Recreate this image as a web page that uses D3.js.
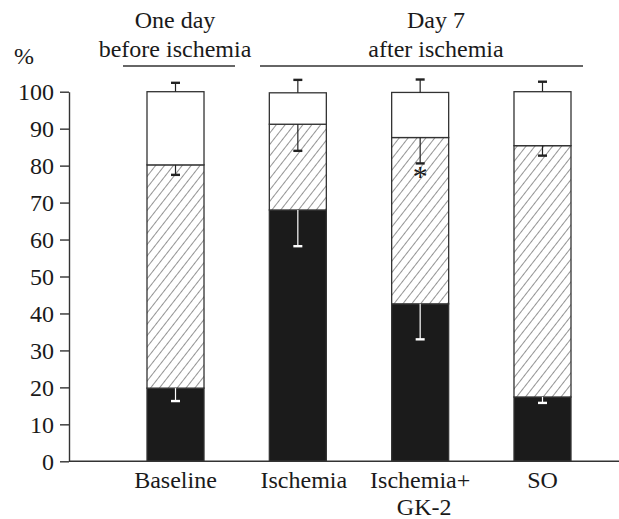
<!DOCTYPE html>
<html>
<head>
<meta charset="utf-8">
<script src="https://cdn.jsdelivr.net/npm/d3@7"></script>
<style>
  body { margin: 0; background: white; }
  text { font-family: "Liberation Serif", "Times New Roman", serif; fill: #1a1a1a; }
</style>
</head>
<body>
<div id="chart"></div>
<script>
// groups on the x axis
let categories = ['Baseline', 'Ischemia', 'Ischemia+|GK-2', 'SO'];
// segment sizes, bottom to top (black, hatched, white), in %
let blackVals = [19.8, 68.0, 42.6, 17.4];
let hatchVals = [60.4, 23.2, 45.0, 68.0];
let whiteVals = [19.8, 8.5, 12.2, 14.6];
// error bar lengths for each segment
let blackErr = [3.5, 9.8, 9.6, 1.6];
let hatchErr = [2.7, 7.2, 7.0, 2.7];
let whiteErr = [2.4, 3.5, 3.5, 2.7];
let yTicks = [0, 10, 20, 30, 40, 50, 60, 70, 80, 90, 100];
// significance mark
let starred = ['Ischemia+|GK-2'];

let width = 619,
	height = 519;

let rows = categories.map((c, i) => ({
	cat: c, black: blackVals[i], hatch: hatchVals[i], white: whiteVals[i],
	errs: {black: blackErr[i], hatch: hatchErr[i], white: whiteErr[i]}
}));

let keys = ['black', 'hatch', 'white'];
let stacked = d3.stack().keys(keys)(rows);

let svg = d3.select('#chart')
	.append('svg')
		.attr('width', width)
		.attr('height', height)
		.style('background', 'white');

// hatch pattern
let pat = svg.append('defs').append('pattern')
	.attr('id', 'hatch')
	.attr('patternUnits', 'userSpaceOnUse')
	.attr('width', 7)
	.attr('height', 7)
	.attr('patternTransform', 'rotate(38)');
pat.append('rect').attr('width', 7).attr('height', 7).attr('fill', 'white');
pat.append('line')
	.attr('x1', 0).attr('y1', 0).attr('x2', 0).attr('y2', 7)
	.attr('stroke', '#3a3a3a').attr('stroke-width', 1.1);

let yScale = d3.scaleLinear()
	.domain([0, 100])
	.range([461.3, 91.7]);

let xScale = d3.scaleBand()
	.domain(categories)
	.range([147, 571])
	.paddingInner(0.534)
	.paddingOuter(0);

let fills = {black: '#1b1b1b', hatch: 'url(#hatch)', white: 'white'};

// bars
svg.append('g')
	.selectAll('g')
	.data(stacked)
	.enter()
	.append('g')
	.attr('fill', d => fills[d.key])
	.selectAll('rect')
	.data(d => d)
	.enter()
	.append('rect')
	.attr('x', d => xScale(d.data.cat))
	.attr('y', d => yScale(d[1]))
	.attr('width', xScale.bandwidth())
	.attr('height', d => yScale(d[0]) - yScale(d[1]))
	.attr('stroke', '#333')
	.attr('stroke-width', 1.3);

// error bars
let errData = [];
stacked.forEach(s => {
	s.forEach(d => {
		let e = d.data.errs[s.key];
		let end = s.key === 'white' ? d[1] + e : d[1] - e;
		errData.push({cat: d.data.cat, from: d[1], to: end, color: s.key === 'black' ? 'white' : '#222'});
	});
});

let errG = svg.append('g');
errG.selectAll('line.stem')
	.data(errData)
	.enter()
	.append('line')
	.attr('class', 'stem')
	.attr('x1', d => xScale(d.cat) + xScale.bandwidth() / 2)
	.attr('x2', d => xScale(d.cat) + xScale.bandwidth() / 2)
	.attr('y1', d => yScale(d.from))
	.attr('y2', d => yScale(d.to))
	.attr('stroke', d => d.color)
	.attr('stroke-width', 1.2);
errG.selectAll('line.cap')
	.data(errData)
	.enter()
	.append('line')
	.attr('class', 'cap')
	.attr('x1', d => xScale(d.cat) + xScale.bandwidth() / 2 - 4.5)
	.attr('x2', d => xScale(d.cat) + xScale.bandwidth() / 2 + 4.5)
	.attr('y1', d => yScale(d.to))
	.attr('y2', d => yScale(d.to))
	.attr('stroke', d => d.color)
	.attr('stroke-width', 2.4);

// asterisk
svg.append('g')
	.selectAll('text')
	.data(rows.filter(r => starred.includes(r.cat)))
	.enter()
	.append('text')
	.attr('x', d => xScale(d.cat) + xScale.bandwidth() / 2)
	.attr('y', d => yScale(d.black + d.hatch - d.errs.hatch) + 23)
	.attr('text-anchor', 'middle')
	.style('font-size', '30px')
	.text('*');

// y axis
let yAxis = d3.axisLeft(yScale)
	.tickValues(yTicks)
	.tickSize(9)
	.tickSizeOuter(0)
	.tickPadding(6);
let yG = svg.append('g')
	.attr('transform', 'translate(69, 0)')
	.call(yAxis);
yG.select('.domain').attr('stroke', '#333').attr('stroke-width', 1.4);
yG.selectAll('.tick line').attr('stroke', '#333').attr('stroke-width', 1.4);
yG.selectAll('.tick text')
	.style('font-size', '24px')
	.attr('font-family', null)
	.attr('fill', '#1a1a1a')
	.attr('dy', '0.34em');

// x axis line
let xAxis = d3.axisBottom(xScale).tickSize(0).tickFormat('');
svg.append('g')
	.attr('transform', 'translate(0,' + yScale(0) + ')')
	.call(xAxis)
	.select('.domain')
	.attr('d', 'M69,0H619')
	.attr('stroke', '#333')
	.attr('stroke-width', 1.4);

// category labels
let labels = svg.append('g')
	.selectAll('text')
	.data(categories)
	.enter()
	.append('text')
	.attr('x', d => xScale(d) + xScale.bandwidth() / 2)
	.attr('y', 488)
	.attr('text-anchor', 'middle')
	.style('font-size', '24px');
labels.each(function(d) {
	let parts = d.split('|');
	let t = d3.select(this);
	let shift = d === 'Ischemia' ? 6 : 0;
	parts.forEach((p, i) => {
		t.append('tspan')
			.attr('x', xScale(d) + xScale.bandwidth() / 2 + shift + (i > 0 ? 4 : 0))
			.attr('dy', i === 0 ? 0 : 27)
			.text(p);
	});
});

// unit label
svg.append('text')
	.attr('x', 14)
	.attr('y', 64)
	.style('font-size', '24px')
	.text('%');

// group headers
let headers = [
	{lines: ['One day', 'before ischemia'], x: 175, x1: 123, x2: 235},
	{lines: ['Day 7', 'after ischemia'], x: 436, x1: 260, x2: 583}
];
headers.forEach(h => {
	h.lines.forEach((l, i) => {
		svg.append('text')
			.attr('x', h.x)
			.attr('y', 28 + i * 29)
			.attr('text-anchor', 'middle')
			.style('font-size', '24px')
			.text(l);
	});
	svg.append('line')
		.attr('x1', h.x1).attr('x2', h.x2)
		.attr('y1', 66).attr('y2', 66)
		.attr('stroke', '#333').attr('stroke-width', 1.4);
});
</script>
</body>
</html>
